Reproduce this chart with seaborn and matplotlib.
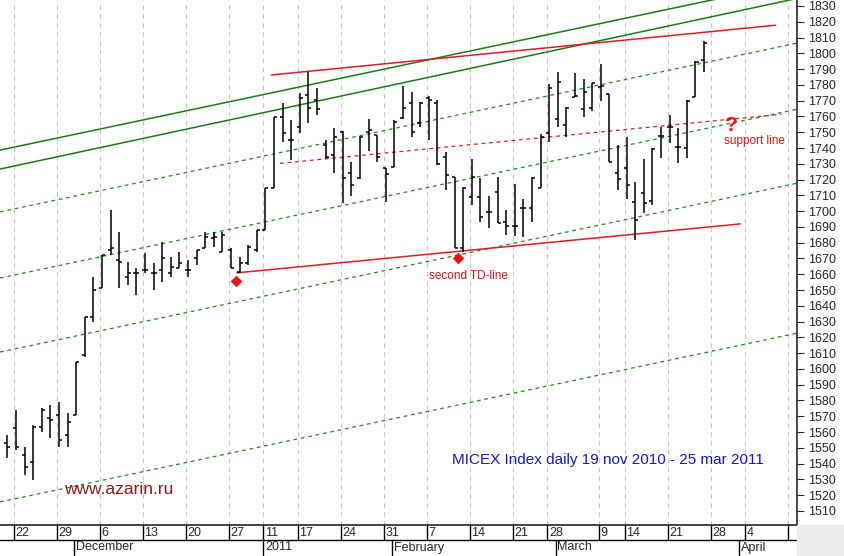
import matplotlib
matplotlib.use("Agg")
from matplotlib import pyplot as plt
import matplotlib.transforms as mtrans
import seaborn as sns
import numpy as np

# daily OHLC, MICEX index, 19 nov 2010 - 25 mar 2011
opens = [1552.9, 1562.4, 1545.5, 1541.2, 1563.4, 1568.7, 1570.8, 1558.1, 1570.8, 1608.8,
         1633.1, 1651.1, 1675.3, 1669.0, 1658.5, 1660.6, 1662.7, 1660.6, 1662.7, 1660.6,
         1663.7, 1662.7, 1670.1, 1676.4, 1682.7, 1674.3, 1675.3, 1661.6, 1666.9, 1675.3,
         1688.0, 1714.5, 1759.5, 1745.1, 1753.6, 1773.6, 1770.5, 1741.9, 1735.6, 1750.4,
         1724.0, 1720.8, 1750.4, 1748.3, 1727.2, 1728.2, 1758.8, 1768.3, 1755.7, 1771.5,
         1768.3, 1734.6, 1721.9, 1676.5, 1709.2, 1708.8, 1699.7, 1712.4, 1693.4, 1690.8,
         1701.8, 1701.8, 1714.5, 1749.8, 1758.2, 1754.6, 1772.6, 1764.5, 1765.2, 1778.9,
         1774.2, 1724.4, 1727.2, 1706.0, 1711.3, 1706.7, 1747.6, 1753.6, 1740.9, 1739.8,
         1772.6, 1795.8]
highs = [1558.1, 1573.9, 1550.7, 1564.5, 1575.0, 1577.1, 1579.3, 1571.9, 1604.6, 1633.1,
         1658.5, 1672.2, 1700.7, 1687.0, 1667.9, 1663.7, 1673.2, 1666.9, 1680.6, 1671.1,
         1674.3, 1669.0, 1675.3, 1687.0, 1687.0, 1687.0, 1676.4, 1671.1, 1678.5, 1688.0,
         1714.4, 1759.9, 1768.3, 1757.8, 1774.7, 1788.4, 1777.8, 1745.1, 1752.5, 1750.8,
         1731.4, 1747.6, 1758.2, 1748.3, 1727.2, 1757.8, 1779.3, 1775.7, 1769.4, 1773.0,
         1770.5, 1737.7, 1721.9, 1715.5, 1732.9, 1720.8, 1709.6, 1721.9, 1700.8, 1717.2,
         1707.5, 1721.9, 1748.9, 1780.6, 1788.4, 1765.8, 1787.3, 1783.5, 1781.0, 1793.3,
         1774.2, 1741.9, 1747.2, 1718.7, 1732.9, 1739.8, 1753.6, 1761.0, 1752.5, 1770.4,
         1795.4, 1808.0]
lows = [1543.3, 1548.6, 1532.8, 1529.6, 1560.2, 1556.0, 1550.7, 1550.7, 1570.8, 1607.8,
        1629.9, 1651.1, 1672.2, 1651.1, 1653.2, 1646.8, 1660.6, 1650.0, 1655.3, 1658.5,
        1663.7, 1658.5, 1665.8, 1676.4, 1677.5, 1674.3, 1663.7, 1660.6, 1665.8, 1674.3,
        1688.0, 1714.5, 1744.1, 1732.4, 1749.3, 1755.7, 1761.0, 1732.9, 1724.4, 1705.0,
        1709.6, 1720.2, 1738.4, 1731.4, 1706.0, 1727.8, 1758.2, 1747.2, 1753.6, 1745.1,
        1729.3, 1713.4, 1676.5, 1674.4, 1703.9, 1693.4, 1689.1, 1692.3, 1684.9, 1684.3,
        1683.4, 1693.4, 1714.5, 1744.1, 1753.5, 1746.8, 1772.6, 1759.5, 1763.7, 1770.0,
        1731.4, 1713.4, 1707.5, 1681.7, 1699.1, 1703.9, 1733.5, 1743.0, 1730.7, 1733.5,
        1772.6, 1788.4]
closes = [1550.7, 1550.7, 1538.1, 1563.4, 1574.0, 1567.6, 1554.9, 1566.6, 1604.6, 1633.1,
          1650.0, 1672.2, 1676.4, 1668.0, 1660.6, 1660.6, 1662.7, 1660.6, 1670.1, 1664.8,
          1666.9, 1662.7, 1675.3, 1683.8, 1683.8, 1684.9, 1663.7, 1666.9, 1677.5, 1688.0,
          1714.4, 1759.5, 1749.3, 1745.1, 1771.5, 1765.2, 1764.5, 1734.6, 1747.2, 1720.8,
          1716.6, 1747.2, 1751.4, 1734.6, 1723.6, 1756.7, 1765.2, 1750.4, 1768.3, 1770.5,
          1729.9, 1722.9, 1676.5, 1714.5, 1721.9, 1696.5, 1699.7, 1692.7, 1690.8, 1690.8,
          1701.8, 1720.8, 1746.8, 1777.8, 1782.1, 1765.2, 1773.0, 1775.7, 1781.0, 1779.3,
          1731.4, 1720.2, 1716.6, 1694.4, 1705.0, 1739.2, 1747.6, 1753.6, 1740.9, 1770.0,
          1794.7, 1806.8]
days = np.arange(len(opens))

# bottom axis: trading-day position -> label
tick_pos = [1, 6, 11, 16, 21, 26, 30, 34, 39, 44, 49, 54, 59, 63, 69, 72, 77, 82, 86, 91]
tick_labels = ['22', '29', '6', '13', '20', '27', '11', '17', '24', '31', '7', '14', '21',
               '28', '9', '14', '21', '28', '4', '']
month_pos = [8, 30, 45, 64, 85.3]
month_labels = ['December', '2011', 'February', 'March', 'April']

# trend lines: (x0, y0, x1, y1)
green_solid = [(-1, 1738.5, 92, 1845.4), (-1, 1726.5, 92, 1835.0)]
green_dashed = [(-0.85, 1699.5, 92, 1806.7), (-0.85, 1657.6, 92, 1764.8),
                (-0.85, 1610.7, 92, 1717.9), (-0.85, 1515.7, 92, 1622.9)]
red_lines = [(30.7, 1786.3, 89.3, 1817.8), (26.7, 1660.9, 85.2, 1691.9)]
support_line = (31.7, 1730.3, 90.0, 1761.4)
td_x = [26.6, 52.4]
td_y = [1655.7, 1670.3]

sns.set_style('white')
plt.rcParams['font.family'] = 'Liberation Sans'
fig = plt.figure(figsize=(8.45, 5.56), dpi=100)
ax = fig.add_axes([0, 31 / 556, 797 / 845, 525 / 556])
ax.set_xlim(-0.85, 91.8)
ax.set_ylim(1501.1, 1833.8)

# vertical grid
for p in tick_pos:
    ax.axvline(p - 0.25, color='#c4c4c4', ls=(0, (4, 4)), lw=0.8, zorder=0)

for x0, y0, x1, y1 in green_dashed:
    ax.plot([x0, x1], [y0, y1], color='#1e8a1e', ls=(0, (3, 3)), lw=0.9)
for x0, y0, x1, y1 in green_solid:
    ax.plot([x0, x1], [y0, y1], color='#1c7a1c', lw=1.1)
for x0, y0, x1, y1 in red_lines:
    ax.plot([x0, x1], [y0, y1], color='#d81e2a', lw=1.1)
x0, y0, x1, y1 = support_line
ax.plot([x0, x1], [y0, y1], color='#d81e2a', ls=(0, (3, 3)), lw=0.9)

# OHLC bars
ax.vlines(days, lows, highs, color='black', lw=1.1, zorder=3)
ax.hlines(opens, days - 0.35, days, color='black', lw=1.1, zorder=3)
ax.hlines(closes, days, days + 0.35, color='black', lw=1.1, zorder=3)

sns.scatterplot(x=td_x, y=td_y, marker='D', s=30, color='#ee1111', edgecolor='#ee1111', ax=ax, zorder=4)

ax.text(49.0, 1663.0, 'second TD-line', color='#dd1111', fontsize=8.5, va='top', ha='left')
ax.text(84.2, 1754.5, '?', color='#ee1111', fontsize=15, fontweight='bold', ha='center', va='center')
ax.text(83.3, 1744.5, 'support line', color='#dd1111', fontsize=8.5, va='center')
ax.text(51.7, 1542, 'MICEX Index daily 19 nov 2010 - 25 mar 2011', color='#1515d0', fontsize=11, va='center')
ax.text(6.6, 1523.5, 'www.azarin.ru', color='#8b1a1a', fontsize=12.5, va='center')

# right price axis
ax.yaxis.tick_right()
ax.set_yticks(np.arange(1510, 1831, 10))
ax.tick_params(axis='y', direction='out', length=5, labelsize=9, pad=3)
ax.set_xticks([])
for s in ['top', 'left']:
    ax.spines[s].set_visible(False)
for s in ['right', 'bottom']:
    ax.spines[s].set_linewidth(1.2)

# bottom date rows
tr = mtrans.blended_transform_factory(ax.transData, ax.transAxes)
row = 15 / 525
for p, lab in zip(tick_pos, tick_labels):
    ax.plot([p - 0.25, p - 0.25], [0, -row], transform=tr, color='black', lw=1, clip_on=False)
    ax.text(p - 0.05, -row / 2, lab, transform=tr, fontsize=9, va='center', ha='left')
ax.plot([-0.85, 91.8], [-row, -row], transform=tr, color='black', lw=1, clip_on=False)
for p, lab in zip(month_pos, month_labels):
    ax.plot([p - 0.25, p - 0.25], [-row, -2 * row], transform=tr, color='black', lw=1, clip_on=False)
    ax.text(p - 0.05, -1.5 * row, lab, transform=tr, fontsize=9, va='center', ha='left')

fig.patches.append(plt.Rectangle((797 / 845, 0), 48 / 845, 31 / 556, transform=fig.transFigure,
                                 color='#ececec', zorder=0))
fig.savefig('out.png', dpi=100)
